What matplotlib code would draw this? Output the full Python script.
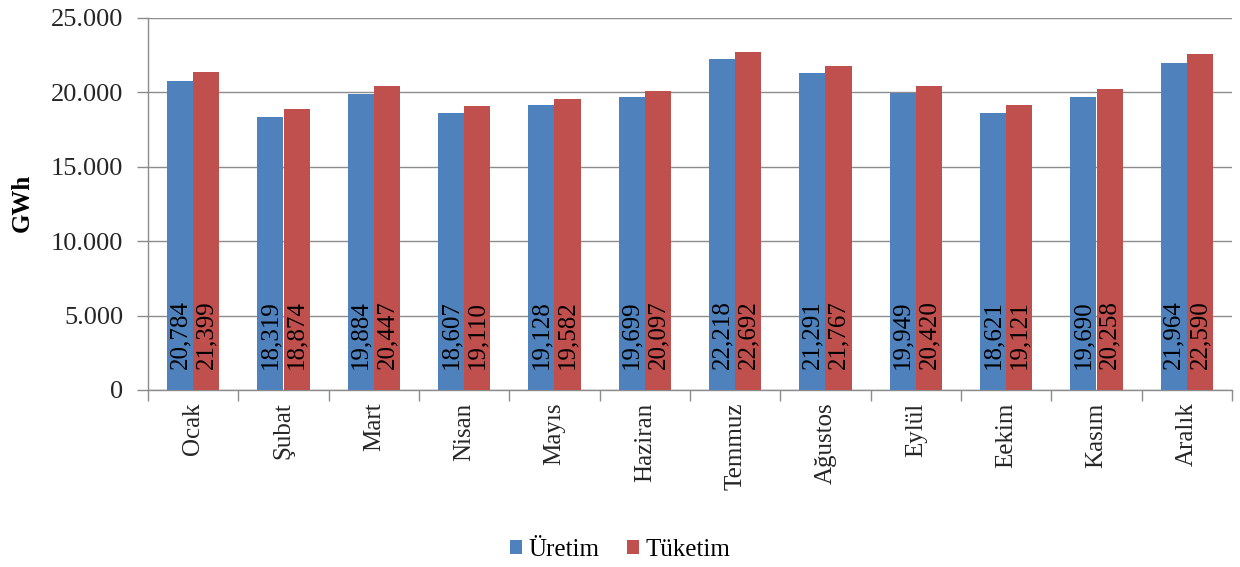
import matplotlib
matplotlib.use("Agg")
import matplotlib.pyplot as plt
from matplotlib.ticker import FuncFormatter, FixedLocator
from matplotlib.patches import Patch
import numpy as np

months = ["Ocak", "Şubat", "Mart", "Nisan", "Mayıs", "Haziran",
          "Temmuz", "Ağustos", "Eylül", "Eekim", "Kasım", "Aralık"]
uretim = [20784, 18319, 19884, 18607, 19128, 19699,
          22218, 21291, 19949, 18621, 19690, 21964]
tuketim = [21399, 18874, 20447, 19110, 19582, 20097,
           22692, 21767, 20420, 19121, 20258, 22590]
series_names = ["Üretim", "Tüketim"]
y_ticks = [0, 5000, 10000, 15000, 20000, 25000]

plt.rcParams["font.family"] = ["Liberation Serif", "DejaVu Serif"]

blue = "#4F81BD"
red = "#C0504D"
grid_col = "#8c8c8c"
label_col = "#262626"

fig = plt.figure(figsize=(12.4, 5.67), dpi=100)
ax = fig.add_axes([148 / 1240, 1 - 390 / 567, (1232 - 148) / 1240, (390 - 18) / 567])

x = np.arange(len(months))
w = 0.29
ax.bar(x - w / 2, uretim, w, color=blue, zorder=3)
ax.bar(x + w / 2, tuketim, w, color=red, zorder=3)

def fmt_val(v):
    return f"{v:,}"

for xi, v in zip(x - w / 2, uretim):
    ax.text(xi, 1400, fmt_val(v), rotation=90, ha="center", va="bottom",
            fontsize=18, color="black", zorder=4)
for xi, v in zip(x + w / 2, tuketim):
    ax.text(xi, 1400, fmt_val(v), rotation=90, ha="center", va="bottom",
            fontsize=18, color="black", zorder=4)

ax.set_xlim(-0.5, len(months) - 0.5)
ax.set_ylim(0, 25000)
ax.set_yticks(y_ticks)
ax.yaxis.set_major_formatter(FuncFormatter(lambda v, p: f"{int(v):,}".replace(",", ".")))
ax.yaxis.grid(True, color=grid_col, linewidth=1.0, zorder=0)

ax.set_xticks(x)
ax.set_xticklabels(months, rotation=90, fontsize=18)
ax.xaxis.set_minor_locator(FixedLocator(np.arange(-0.5, len(months), 1.0)))
ax.tick_params(axis="x", which="major", length=0, pad=9, labelcolor=label_col)
ax.tick_params(axis="x", which="minor", length=8, color=grid_col, width=1)
ax.tick_params(axis="y", length=8, color=grid_col, width=1, labelsize=19, pad=10,
               labelcolor=label_col)

for s in ["top", "right"]:
    ax.spines[s].set_visible(False)
for s in ["left", "bottom"]:
    ax.spines[s].set_color(grid_col)
    ax.spines[s].set_linewidth(1.0)

fig.text(22 / 1240, 1 - 203 / 567, "GWh", rotation=90, ha="center", va="center",
         fontsize=18, fontweight="bold")

handles = [Patch(facecolor=blue), Patch(facecolor=red)]
fig.legend(handles, series_names, loc="center", bbox_to_anchor=(0.50, 1 - 550 / 567),
           ncol=2, frameon=False, fontsize=18, handlelength=0.5, handleheight=0.5,
           handletextpad=0.25, columnspacing=1.1)

fig.savefig("out.png", dpi=100)
